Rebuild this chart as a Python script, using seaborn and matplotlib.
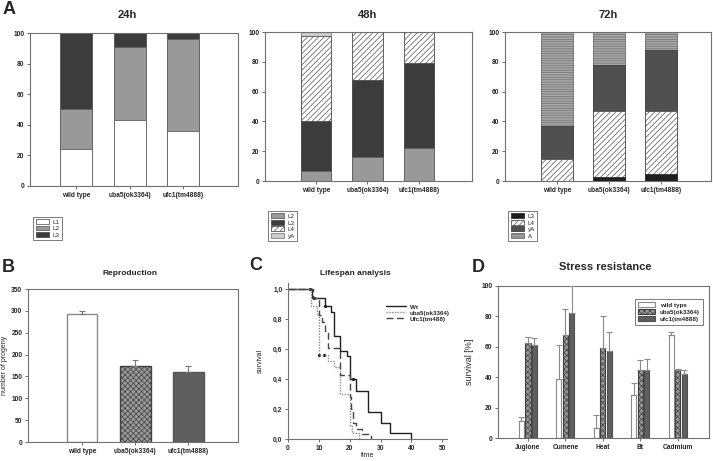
import matplotlib
matplotlib.use('Agg')
import matplotlib.pyplot as plt
import pandas as pd
import seaborn as sns
from matplotlib.patches import Patch

sns.set_style('white')
plt.rcParams['font.family'] = ['Liberation Sans', 'DejaVu Sans']
plt.rcParams['font.weight'] = 'bold'
plt.rcParams['hatch.linewidth'] = 0.5

W, H = 713, 461

genotypes = ['wild type', 'uba5(ok3364)', 'ufc1(tm4888)']

# A - developmental stages (%)
stages_24h = ['L1', 'L2', 'L3']
l1_24h = [24, 43, 36]
l2_24h = [26, 48, 60]
l3_24h = [50, 9, 4]

stages_48h = ['L2', 'L3', 'L4', 'yA']
l2_48h = [7, 16, 22]
l3_48h = [33, 52, 57]
l4_48h = [57, 32, 21]
ya_48h = [3, 0, 0]

stages_72h = ['L3', 'L4', 'yA', 'A']
l3_72h = [0, 3, 5]
l4_72h = [15, 44, 42]
ya_72h = [22, 31, 41]
a_72h = [63, 22, 12]

# B - reproduction
progeny = [293, 174, 161]
progeny_err = [7, 14, 12]

# C - lifespan (Kaplan-Meier steps)
wt_t = [0, 7.7, 12, 14, 15, 17, 19, 20, 22, 26, 30, 33, 40]
wt_s = [1.0, 0.94, 0.89, 0.85, 0.685, 0.59, 0.555, 0.40, 0.32, 0.18, 0.11, 0.04, 0.0]
uba5_t = [0, 7.5, 9.5, 10, 13, 15, 17, 20, 20.7, 23]
uba5_s = [1.0, 0.89, 0.83, 0.56, 0.52, 0.48, 0.30, 0.09, 0.04, 0.0]
ufc1_t = [0, 8, 10, 11, 12, 13, 17, 20, 20.5, 21, 22, 24, 27]
ufc1_s = [1.0, 0.94, 0.83, 0.78, 0.72, 0.61, 0.43, 0.28, 0.20, 0.11, 0.07, 0.035, 0.0]
cens_t = [7, 8.5, 12, 21, 10, 11.5]
cens_s = [1.0, 0.94, 0.89, 0.40, 0.56, 0.56]

# D - stress resistance (%)
stresses = ['Juglone', 'Cumene', 'Heat', 'Bt', 'Cadmium']
stress_wt = [11, 39, 6.5, 28, 67.5]
stress_wt_err = [2.5, 22, 8.5, 8.5, 2.5]
stress_uba5 = [62.5, 68, 59, 45, 45]
stress_uba5_err = [4, 17, 21, 6, 0.5]
stress_ufc1 = [61, 82, 57, 45, 42]
stress_ufc1_err = [5, 18, 12.5, 7, 3]

spine_col = '#707070'
styles = {
    'L1': dict(fc='white', ec='#606060', hatch=None),
    'L2': dict(fc='#999999', ec='#606060', hatch=None),
    'L3': dict(fc='#3c3c3c', ec='#505050', hatch=None),
    'L4': dict(fc='white', ec='#555555', hatch='//////'),
    'yA': dict(fc='#cccccc', ec='#808080', hatch=None),
}
styles72 = dict(styles)
styles72['L3'] = dict(fc='#1e1e1e', ec='#303030', hatch=None)
styles72['yA'] = dict(fc='#505050', ec='#404040', hatch=None)
styles72['A'] = dict(fc='#a8a8a8', ec='#6e6e6e', hatch='-------')


def px_axes(fig, left, top, right, bottom):
    return fig.add_axes([left / W, 1 - bottom / H, (right - left) / W, (bottom - top) / H])


def style_box(ax, box=True):
    for s in ax.spines.values():
        s.set_color(spine_col)
        s.set_linewidth(0.8)
    if not box:
        ax.spines['top'].set_visible(False)
        ax.spines['right'].set_visible(False)
    ax.tick_params(direction='out', length=2.5, width=0.6, color='#555555',
                   labelsize=4.8, pad=1.5, bottom=True, left=True)
    ax.set_xlabel('')
    ax.set_ylabel('')


def stacked(ax, stages, layers, st, xlim):
    df = pd.DataFrame(dict(zip(stages, layers)), index=genotypes)
    cum = df.cumsum(axis=1)
    for stage in reversed(stages):
        s = st[stage]
        sns.barplot(x=genotypes, y=cum[stage].values, color=s['fc'], saturation=1,
                    errorbar=None, width=0.6, edgecolor=s['ec'], linewidth=0.6,
                    hatch=s['hatch'], ax=ax)
    ax.set_ylim(0, 100)
    ax.set_yticks(range(0, 101, 20))
    ax.set_xlim(*xlim)
    style_box(ax)
    handles = [Patch(facecolor=st[k]['fc'], edgecolor=st[k]['ec'], hatch=st[k]['hatch'],
                     linewidth=0.6, label=k) for k in stages]
    leg = ax.legend(handles=handles, loc='upper left', bbox_to_anchor=(0, -0.18),
                    fontsize=4.5, handlelength=2.2, handleheight=0.8, labelspacing=0.15,
                    borderpad=0.4, handletextpad=0.5, fancybox=False, frameon=True)
    leg.get_frame().set_edgecolor('#404040')
    leg.get_frame().set_linewidth(0.6)
    for t in leg.get_texts():
        t.set_fontweight('normal')


def add_err(ax, bars, err, color='#777777'):
    xs = [p.get_x() + p.get_width() / 2 for p in bars]
    ys = [p.get_height() for p in bars]
    ax.errorbar(xs, ys, yerr=[[0] * len(err), err], fmt='none', ecolor=color,
                elinewidth=0.8, capsize=2, capthick=0.8, zorder=3)


def style_bars(ax, edges, hatches, errs, ecolor):
    conts = list(ax.containers)
    for i, cont in enumerate(conts):
        bars = [p for p in cont if p is not None]
        for p in bars:
            p.set_edgecolor(edges[i])
            p.set_hatch(hatches[i])
        add_err(ax, bars, errs[i], color=ecolor)


fig = plt.figure(figsize=(W / 100, H / 100), dpi=100)

# ---- A ----
ax1 = px_axes(fig, 30, 33, 238, 186)
stacked(ax1, stages_24h, [l1_24h, l2_24h, l3_24h], styles, (-0.87, 3.03))
ax2 = px_axes(fig, 265, 32, 472, 181)
stacked(ax2, stages_48h, [l2_48h, l3_48h, l4_48h, ya_48h], styles, (-0.99, 3.03))
ax3 = px_axes(fig, 505, 32, 711, 181)
stacked(ax3, stages_72h, [l3_72h, l4_72h, ya_72h, a_72h], styles72, (-1.0, 2.96))

fig.text(127 / W, 1 - 15 / H, '24h', ha='center', va='center', fontsize=8)
fig.text(368 / W, 1 - 15 / H, '48h', ha='center', va='center', fontsize=8)
fig.text(608 / W, 1 - 15 / H, '72h', ha='center', va='center', fontsize=8)

# ---- B ----
axb = px_axes(fig, 28, 289, 238, 442)
sns.barplot(x=genotypes, y=progeny, hue=genotypes, palette=['white', '#9a9a9a', '#5f5f5f'],
            saturation=1, errorbar=None, width=0.58, legend=False, linewidth=1.0, ax=axb)
b_edges = ['#8a8a8a', '#404040', '#555555']
b_hatch = [None, 'xxxxxx', None]
style_bars(axb, b_edges, b_hatch, [[e] for e in progeny_err], '#777777')
axb.set_ylim(0, 350)
axb.set_yticks(range(0, 351, 50))
axb.set_xlim(-1.02, 2.94)
style_box(axb)
axb.set_ylabel('number of progeny', fontsize=5)
axb.yaxis.set_label_coords(-0.095, 0.5)
fig.text(130 / W, 1 - 273 / H, 'Reproduction', ha='center', va='center', fontsize=6)

# ---- C ----
axc = px_axes(fig, 288, 283, 447, 439)
sns.lineplot(x=wt_t, y=wt_s, drawstyle='steps-post', color='#202020', lw=1.0,
             estimator=None, sort=False, ax=axc, label='Wt')
sns.lineplot(x=uba5_t, y=uba5_s, drawstyle='steps-post', color='#8a8a8a', lw=1.0,
             ls=(0, (1, 1)), estimator=None, sort=False, ax=axc, label='uba5(ok3364)')
sns.lineplot(x=ufc1_t, y=ufc1_s, drawstyle='steps-post', color='#454545', lw=1.0,
             ls=(0, (5, 2.5)), estimator=None, sort=False, ax=axc, label='Ufc1(tm488)')
sns.scatterplot(x=cens_t, y=cens_s, color='#111111', s=5, marker='o', linewidth=0, ax=axc)
axc.set_xlim(0, 51.5)
axc.set_ylim(0, 1.04)
axc.set_xticks(range(0, 51, 10))
axc.set_yticks([0, 0.2, 0.4, 0.6, 0.8, 1.0])
axc.set_yticklabels(['0,0', '0,2', '0,4', '0,6', '0,8', '1,0'])
style_box(axc, box=False)
leg = axc.legend(loc='upper left', bbox_to_anchor=(0.58, 0.9), frameon=False, fontsize=4.5,
                 handlelength=3.2, labelspacing=0.1, handletextpad=0.6)
axc.set_ylabel('survival', fontsize=5)
axc.yaxis.set_label_coords(-0.15, 0.5)
axc.set_xlabel('time', fontsize=5)
axc.xaxis.set_label_coords(0.5, -0.085)
fig.text(355 / W, 1 - 273 / H, 'Lifespan analysis', ha='center', va='center', fontsize=6)

# ---- D ----
axd = px_axes(fig, 498, 286, 709, 438)
hue_names = ['wild type', 'uba5(ok3364)', 'ufc1(tm4888)']
df_d = pd.DataFrame({
    'stress': stresses * 3,
    'genotype': sum([[g] * len(stresses) for g in hue_names], []),
    'value': stress_wt + stress_uba5 + stress_ufc1,
})
sns.barplot(data=df_d, x='stress', y='value', hue='genotype', hue_order=hue_names,
            palette=['white', '#9a9a9a', '#5f5f5f'], saturation=1, errorbar=None,
            width=0.52, gap=0.22, legend=False, linewidth=0.8, ax=axd)
d_edges = ['#8a8a8a', '#404040', '#505050']
style_bars(axd, d_edges, b_hatch, [stress_wt_err, stress_uba5_err, stress_ufc1_err], '#8a8a8a')
axd.set_ylim(0, 100)
axd.set_yticks(range(0, 101, 20))
axd.set_xlim(-0.8, 4.83)
style_box(axd)
axd.set_ylabel('survival [%]', fontsize=6.5)
axd.yaxis.set_label_coords(-0.115, 0.5)
handles = [Patch(facecolor=fc, edgecolor=ec, hatch=h, linewidth=0.8, label=n)
           for fc, ec, h, n in zip(['white', '#9a9a9a', '#5f5f5f'], d_edges, b_hatch, hue_names)]
legd = axd.legend(handles=handles, loc='upper right', bbox_to_anchor=(0.985, 0.935),
                  fontsize=4.5, handlelength=2.6, handleheight=0.8, labelspacing=0.25,
                  borderpad=0.5, fancybox=False)
legd.get_frame().set_edgecolor('#404040')
legd.get_frame().set_linewidth(0.6)
fig.text(605 / W, 1 - 267 / H, 'Stress resistance', ha='center', va='center', fontsize=8)

# panel letters
for lab, x, y in [('A', 9, 10), ('B', 8, 268), ('C', 256, 266), ('D', 478, 267)]:
    fig.text(x / W, 1 - y / H, lab, ha='center', va='center', fontsize=13)

fig.savefig('out.png', dpi=100)
